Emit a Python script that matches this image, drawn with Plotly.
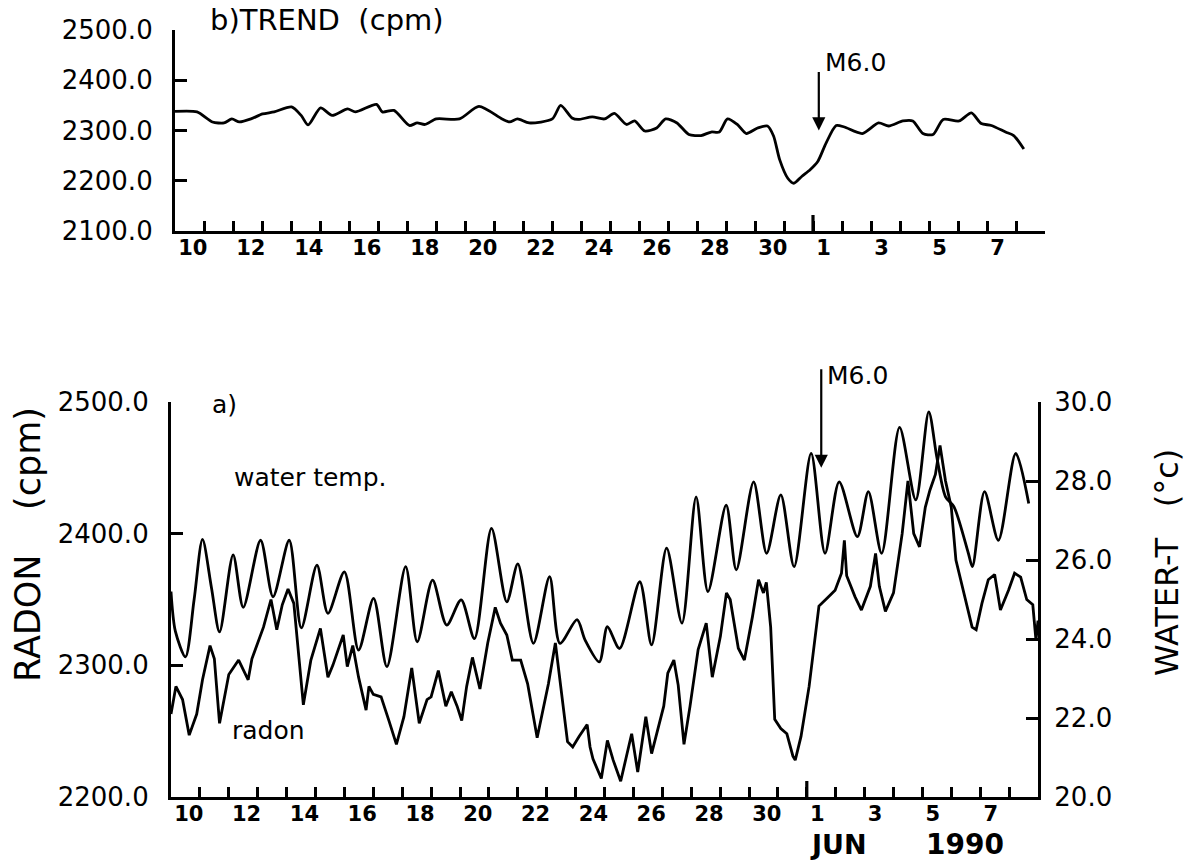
import pandas as pd
import plotly.graph_objects as go

BASE = pd.Timestamp("1990-05-10 00:00")

# ---- data (days since 10 May 1990 00:00) ----
trend_days = [0.0, 0.76, 1.29, 1.69, 1.96, 2.22, 2.62, 3.02, 3.42, 4.02,
              4.35, 4.59, 5.02, 5.42, 5.95, 6.22, 6.95, 7.15, 7.55, 8.08,
              8.35, 8.62, 9.01, 9.81, 10.48, 11.28, 11.54, 11.81, 12.21, 13.01,
              13.3, 13.69, 13.9, 14.39, 14.81, 15.15, 15.57, 15.85, 16.2, 16.61,
              16.92, 17.31, 17.72, 18.14, 18.49, 18.77, 19.05, 19.39, 19.7, 20.09,
              20.43, 20.64, 20.85, 21.13, 21.34, 21.62, 21.9, 22.17, 22.45, 22.8,
              23.08, 23.7, 24.26, 24.61, 25.1, 25.44, 25.79, 26.14, 26.49, 27.04,
              27.46, 27.8, 28.15, 28.64, 28.92, 29.27]
trend_cpm = [2338, 2337, 2317, 2315, 2323, 2317, 2323, 2333, 2337, 2347,
             2330, 2311, 2345, 2330, 2343, 2337, 2352, 2337, 2340, 2310,
             2315, 2312, 2323, 2323, 2348, 2323, 2317, 2323, 2315, 2323,
             2350, 2325, 2322, 2327, 2323, 2334, 2312, 2319, 2299, 2305,
             2323, 2315, 2292, 2290, 2297, 2297, 2323, 2312, 2294, 2305,
             2309, 2289, 2242, 2205, 2195, 2209, 2222, 2239, 2275, 2310,
             2307, 2294, 2315, 2309, 2319, 2319, 2294, 2292, 2322, 2319,
             2335, 2314, 2310, 2297, 2290, 2263]

radon_days = [0.0, 0.17, 0.4, 0.63, 0.89, 1.09, 1.35, 1.5, 1.68, 1.88,
              2.0, 2.34, 2.67, 2.8, 3.2, 3.46, 3.66, 3.85, 4.05, 4.25,
              4.58, 4.84, 5.17, 5.43, 5.6, 5.96, 6.1, 6.29, 6.49, 6.75,
              6.85, 7.0, 7.27, 7.54, 7.8, 8.06, 8.33, 8.59, 8.86, 9.0,
              9.25, 9.51, 9.7, 9.9, 10.06, 10.23, 10.43, 10.69, 10.96, 11.22,
              11.4, 11.62, 11.81, 12.1, 12.34, 12.67, 12.85, 13.06, 13.3, 13.52,
              13.72, 13.9, 14.12, 14.4, 14.5, 14.6, 14.89, 15.1, 15.3, 15.56,
              15.94, 16.15, 16.43, 16.63, 17.05, 17.19, 17.4, 17.55, 17.75, 17.96,
              18.24, 18.52, 18.73, 19.01, 19.22, 19.35, 19.63, 19.84, 20.12, 20.33,
              20.5, 20.6, 20.75, 20.89, 21.1, 21.31, 21.52, 21.6, 21.8, 22.08,
              22.28, 22.42, 22.7, 22.98, 23.2, 23.3, 23.38, 23.67, 23.89, 24.2,
              24.38, 24.51, 24.72, 25.0, 25.3, 25.5, 25.7, 25.9, 26.1, 26.26,
              26.45, 26.61, 26.8, 27.0, 27.16, 27.44, 27.72, 27.86, 28.06, 28.28,
              28.5, 28.7, 28.98, 29.19, 29.4, 29.61, 29.82, 29.93, 30.0]
radon_cpm = [2263, 2284, 2274, 2247, 2263, 2289, 2315, 2305, 2256, 2279,
             2293, 2304, 2289, 2305, 2329, 2350, 2327, 2346, 2358, 2347,
             2270, 2304, 2328, 2291, 2300, 2323, 2299, 2315, 2291, 2266,
             2284, 2278, 2276, 2258, 2240, 2261, 2298, 2256, 2274, 2276,
             2296, 2269, 2280, 2269, 2258, 2284, 2306, 2282, 2317, 2344,
             2332, 2323, 2304, 2304, 2286, 2245, 2263, 2286, 2317, 2279,
             2242, 2238, 2246, 2255, 2238, 2229, 2214, 2243, 2228, 2212,
             2248, 2219, 2261, 2233, 2269, 2294, 2304, 2285, 2240, 2269,
             2312, 2332, 2291, 2322, 2355, 2350, 2313, 2304, 2337, 2365,
             2355, 2363, 2329, 2259, 2252, 2248, 2231, 2228, 2246, 2284,
             2322, 2345, 2351, 2357, 2370, 2395, 2368, 2352, 2342, 2360,
             2385, 2360, 2341, 2355, 2400, 2440, 2400, 2390, 2420, 2433,
             2445, 2467, 2440, 2420, 2380, 2355, 2329, 2327, 2347, 2365,
             2369, 2342, 2357, 2370, 2367, 2350, 2346, 2319, 2334]

temp_days = [0.0, 0.15, 0.5, 0.8, 1.09, 1.4, 1.68, 2.15, 2.5, 3.1,
             3.53, 4.09, 4.51, 5.05, 5.43, 6.0, 6.49, 7.01, 7.47, 8.12,
             8.52, 9.05, 9.54, 10.04, 10.5, 11.09, 11.62, 12.0, 12.54, 13.1,
             13.46, 14.05, 14.33, 14.82, 15.1, 15.52, 16.22, 16.63, 17.15, 17.68,
             18.17, 18.58, 19.21, 19.56, 20.16, 20.61, 21.1, 21.56, 22.15, 22.63,
             23.12, 23.75, 24.13, 24.59, 25.21, 25.77, 26.22, 26.5, 26.8, 27.09,
             27.59, 27.73, 28.15, 28.63, 29.23, 29.68]
temp_c = [25.2, 24.2, 23.55, 25.0, 26.52, 25.3, 24.18, 26.13, 24.8, 26.5,
          25.07, 26.5, 24.28, 25.87, 24.65, 25.7, 23.72, 25.03, 23.3, 25.83,
          23.93, 25.49, 24.35, 24.99, 24.01, 26.8, 24.94, 25.9, 23.89, 25.58,
          23.89, 24.49, 23.97, 23.42, 24.31, 23.76, 25.45, 23.85, 26.3, 24.4,
          27.6, 25.2, 27.39, 25.75, 27.98, 26.17, 27.65, 25.83, 28.7, 26.17,
          27.98, 26.59, 27.73, 26.17, 29.36, 27.52, 29.75, 28.6, 27.6, 27.35,
          26.17, 25.83, 27.73, 26.5, 28.7, 27.43]

# x tick labels (every second day, label starts at that day)
tick_day_offsets = [0, 2, 4, 6, 8, 10, 12, 14, 16, 18, 20, 22, 24, 26, 28]
tick_labels = ["10", "12", "14", "16", "18", "20", "22", "24", "26", "28",
               "30", "1", "3", "5", "7"]
minor_day_offsets = [1, 3, 5, 7, 9, 11, 13, 15, 17, 19, 21, 23, 25, 27, 29]
trend_ticks = [2100, 2200, 2300, 2400, 2500]
radon_ticks = [2200, 2300, 2400, 2500]
temp_ticks = [20, 22, 24, 26, 28, 30]
quake_day_top = 22.2
quake_day_bottom = 22.5


def to_dt(days):
    return [BASE + pd.Timedelta(days=d) for d in days]


W, H = 1192, 864


def px(x):
    return x / W


def py(y):
    return 1 - y / H


FONT = "DejaVu Sans"
BLACK = "black"
LINEW = 3.2
DATAW = 2.8

fig = go.Figure()
fig.add_trace(go.Scatter(x=to_dt(trend_days), y=trend_cpm, mode="lines",
                         line=dict(color=BLACK, width=DATAW, shape="spline", smoothing=0.7),
                         xaxis="x", yaxis="y", showlegend=False))
fig.add_trace(go.Scatter(x=to_dt(radon_days), y=radon_cpm, mode="lines",
                         line=dict(color=BLACK, width=DATAW),
                         xaxis="x2", yaxis="y2", showlegend=False))
fig.add_trace(go.Scatter(x=to_dt(temp_days), y=temp_c, mode="lines",
                         line=dict(color=BLACK, width=DATAW, shape="spline", smoothing=0.8),
                         xaxis="x2", yaxis="y3", showlegend=False))

xr = [BASE, BASE + pd.Timedelta(days=30)]


def xaxis_cfg(domain, anchor):
    return dict(
        domain=domain, anchor=anchor, type="date", range=xr, automargin=False,
        showline=True, linewidth=LINEW, linecolor=BLACK,
        showgrid=False, zeroline=False,
        tickmode="array", tickvals=to_dt(tick_day_offsets), ticktext=tick_labels,
        ticks="inside", ticklen=10, tickwidth=LINEW, tickcolor=BLACK,
        ticklabelposition="outside right", ticklabelstandoff=-4,
        tickfont=dict(family=FONT, size=21, color=BLACK, weight="bold"),
        minor=dict(tickmode="array", tickvals=to_dt(minor_day_offsets),
                   ticks="inside", ticklen=10, tickwidth=LINEW, tickcolor=BLACK,
                   showgrid=False),
    )


def yaxis_cfg(domain, anchor, rng, ticks, side="left", standoff=14):
    return dict(
        domain=domain, anchor=anchor, range=rng, side=side, automargin=False,
        showline=True, linewidth=LINEW, linecolor=BLACK,
        showgrid=False, zeroline=False,
        tickmode="array", tickvals=ticks, tickformat=".1f",
        ticks="inside", ticklen=12, tickwidth=LINEW, tickcolor=BLACK,
        ticklabelstandoff=standoff,
        tickfont=dict(family=FONT, size=26, color=BLACK),
    )


fig.update_layout(
    width=W, height=H,
    margin=dict(l=0, r=0, t=0, b=0, autoexpand=False),
    paper_bgcolor="white", plot_bgcolor="white",
    showlegend=False,
    xaxis=xaxis_cfg([px(175), px(1045)], "y"),
    yaxis=yaxis_cfg([py(231), py(30)], "x", [2100, 2500], trend_ticks),
    xaxis2=xaxis_cfg([px(171), px(1038)], "y2"),
    yaxis2=yaxis_cfg([py(797), py(402)], "x2", [2200, 2500], radon_ticks),
    yaxis3=dict(yaxis_cfg([py(797), py(402)], "x2", [20, 30], temp_ticks,
                          side="right", standoff=8),
                overlaying="y2"),
)

# taller tick at 1 June
for xa, ybot in [("x", 231), ("x2", 797)]:
    fig.add_shape(type="line", xref=xa, yref="paper",
                  x0=BASE + pd.Timedelta(days=22), x1=BASE + pd.Timedelta(days=22),
                  y0=py(ybot), y1=py(ybot - 16), line=dict(color=BLACK, width=LINEW))


def txt(text, x, y, size, xanchor="left", angle=0, bold=False):
    fig.add_annotation(text=text, x=px(x), y=py(y), xref="paper", yref="paper",
                       xanchor=xanchor, yanchor="middle", showarrow=False,
                       textangle=angle,
                       font=dict(family=FONT, size=size, color=BLACK,
                                 weight="bold" if bold else "normal"))


txt("b)TREND  (cpm)", 208, 20, 29)
txt("M6.0", 823, 62, 25)
txt("a)", 210, 404, 25)
txt("water temp.", 232, 477, 25)
txt("radon", 230, 730, 25)
txt("M6.0", 825, 376, 25)
txt("RADON    (cpm)", 28, 545, 35, xanchor="center", angle=-90)
txt("WATER-T   (°c)", 1167, 563, 32, xanchor="center", angle=-90)
txt("JUN", 838, 844, 27, xanchor="center", bold=True)
txt("1990", 965, 844, 28, xanchor="center", bold=True)

# earthquake arrows
fig.add_annotation(x=BASE + pd.Timedelta(days=quake_day_top), y=2300, xref="x", yref="y",
                   text="", showarrow=True, ax=0, ay=-60, arrowhead=2, arrowsize=1.2,
                   arrowwidth=2.2, arrowcolor=BLACK)
fig.add_annotation(x=BASE + pd.Timedelta(days=quake_day_bottom), y=2450, xref="x2", yref="y2",
                   text="", showarrow=True, ax=0, ay=-100, arrowhead=2, arrowsize=1.2,
                   arrowwidth=2.2, arrowcolor=BLACK)

fig.write_html("out.html", config={"displayModeBar": False},
               post_script="document.body.style.margin='0';")
